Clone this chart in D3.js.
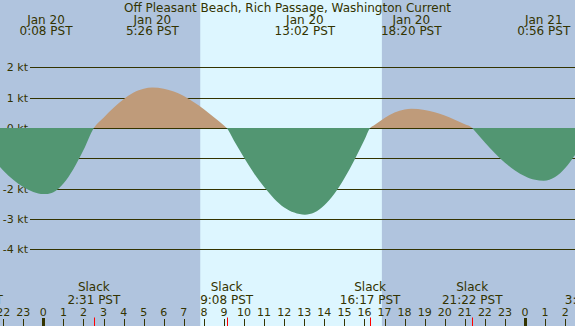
<!DOCTYPE html>
<html>
<head>
<meta charset="utf-8">
<script src="https://cdn.jsdelivr.net/npm/d3@7"></script>
<style>
  html, body { margin: 0; padding: 0; background: #b0c4de; }
  svg { display: block; }
  text { font-family: "DejaVu Sans", sans-serif; fill: #333300; }
</style>
</head>
<body>
<div id="viz"></div>
<script>
// Current at Off Pleasant Beach, Rich Passage, Jan 20 (hours from Jan 20 0:00 PST)
var W = 575, H = 326;
var title = "Off Pleasant Beach, Rich Passage, Washington Current";

// readings: hour, knots (flood +, ebb -)
var hours  = [-2.5, -2, -1.5, -1, -0.5, 0, 0.133, 0.5, 1, 1.5, 2, 2.517,
              3, 3.5, 4, 4.5, 5, 5.433, 6, 6.5, 7, 7.5, 8, 8.5, 9, 9.133,
              9.5, 10, 10.5, 11, 11.5, 12, 12.5, 13.033, 13.5, 14, 14.5, 15, 15.5, 16, 16.283,
              16.5, 17, 17.5, 18, 18.333, 19, 19.5, 20, 20.5, 21, 21.367,
              21.5, 22, 22.5, 23, 23.5, 24, 24.5, 24.933, 25.5, 26, 26.5, 27];
var speeds = [-1.03, -1.40, -1.71, -1.95, -2.11, -2.18, -2.18, -2.12, -1.83, -1.35, -0.73, 0,
              0.34, 0.67, 0.95, 1.17, 1.29, 1.33, 1.29, 1.20, 1.05, 0.85, 0.62, 0.35, 0.08, 0,
              -0.42, -0.98, -1.50, -1.95, -2.33, -2.62, -2.79, -2.86, -2.79, -2.55, -2.17, -1.66, -1.06, -0.39, 0,
              0.10, 0.33, 0.51, 0.61, 0.63, 0.59, 0.52, 0.41, 0.27, 0.12, 0,
              -0.10, -0.48, -0.83, -1.15, -1.40, -1.59, -1.71, -1.74, -1.62, -1.32, -0.88, -0.38];

// max current events (top labels)
var maxHours = [0.133, 5.433, 13.033, 18.333, 24.933];
var maxDays  = ["Jan 20", "Jan 20", "Jan 20", "Jan 20", "Jan 21"];
var maxTimes = ["0:08 PST", "5:26 PST", "13:02 PST", "18:20 PST", "0:56 PST"];

// slack water events (bottom labels)
var slackHours = [-3.53, 2.517, 9.133, 16.283, 21.367, 27.3];
var slackTimes = ["20:28 PST", "2:31 PST", "9:08 PST", "16:17 PST", "21:22 PST", "3:18 PST"];

var sunrise = 7.817, sunset = 16.867;
var ktTicks = [2, 1, 0, -1, -2, -3, -4];
var hourTicks = d3.range(-2, 28);

var x = d3.scaleLinear().domain([-2.16, 26.49]).range([0, W]);
var y = d3.scaleLinear().domain([-4, 2]).range([249.3, 67.3]);

var svg = d3.select("#viz").append("svg")
    .attr("width", W).attr("height", H);

// night / day background
svg.append("rect").attr("x", 0).attr("y", 0).attr("width", W).attr("height", H)
    .attr("fill", "#b0c4de");
svg.append("rect")
    .attr("x", x(sunrise)).attr("y", 0)
    .attr("width", x(sunset) - x(sunrise)).attr("height", H)
    .attr("fill", "#ddf6ff");

// grid lines
svg.append("g").selectAll("line").data(ktTicks).enter().append("line")
    .attr("x1", 30).attr("x2", W)
    .attr("y1", function(d) { return Math.round(y(d)) + 0.5; })
    .attr("y2", function(d) { return Math.round(y(d)) + 0.5; })
    .attr("stroke", "#333300").attr("stroke-width", 1);

svg.append("g").selectAll("text").data(ktTicks).enter().append("text")
    .attr("x", 28).attr("y", function(d) { return y(d) + 4; })
    .attr("text-anchor", "end").attr("font-size", 11)
    .text(function(d) { return d + " kt"; });

// current area, split by sign
var pts = hours.map(function(h, i) { return [h, speeds[i]]; });
var area = d3.area()
    .x(function(d) { return x(d[0]); })
    .y0(y(0))
    .y1(function(d) { return y(d[1]); })
    .curve(d3.curveMonotoneX);

var defs = svg.append("defs");
defs.append("clipPath").attr("id", "flood")
    .append("rect").attr("x", 0).attr("y", 0).attr("width", W).attr("height", y(0));
defs.append("clipPath").attr("id", "ebb")
    .append("rect").attr("x", 0).attr("y", y(0)).attr("width", W).attr("height", H - y(0));

svg.append("path").datum(pts).attr("d", area)
    .attr("fill", "#bf9b7a").attr("clip-path", "url(#flood)");
svg.append("path").datum(pts).attr("d", area)
    .attr("fill", "#529672").attr("clip-path", "url(#ebb)");

// title and max labels
svg.append("text").attr("x", W / 2).attr("y", 11.5)
    .attr("text-anchor", "middle").attr("font-size", 12).text(title);

var tops = svg.append("g").selectAll("g").data(maxHours).enter().append("g");
tops.append("text")
    .attr("x", function(d) { return x(d); }).attr("y", 23.5)
    .attr("text-anchor", "middle").attr("font-size", 12)
    .text(function(d, i) { return maxDays[i]; });
tops.append("text")
    .attr("x", function(d) { return x(d); }).attr("y", 35.3)
    .attr("text-anchor", "middle").attr("font-size", 12)
    .text(function(d, i) { return maxTimes[i]; });

// slack labels
var slacks = svg.append("g").selectAll("g").data(slackHours).enter().append("g");
slacks.append("text")
    .attr("x", function(d) { return x(d); }).attr("y", 291)
    .attr("text-anchor", "middle").attr("font-size", 12)
    .text("Slack");
slacks.append("text")
    .attr("x", function(d) { return x(d); }).attr("y", 303.5)
    .attr("text-anchor", "middle").attr("font-size", 12)
    .text(function(d, i) { return slackTimes[i]; });

// hour axis
svg.append("g").selectAll("text").data(hourTicks).enter().append("text")
    .attr("x", function(d) { return x(d); }).attr("y", 316)
    .attr("text-anchor", "middle").attr("font-size", 11)
    .text(function(d) { return ((d % 24) + 24) % 24; });

svg.append("g").selectAll("line").data(hourTicks).enter().append("line")
    .attr("x1", function(d) { return Math.round(x(d)) + 0.5; })
    .attr("x2", function(d) { return Math.round(x(d)) + 0.5; })
    .attr("y1", function(d) { return d % 24 == 0 ? 318 : 319; })
    .attr("y2", H)
    .attr("stroke", "#333300")
    .attr("stroke-width", function(d) { return d % 24 == 0 ? 3 : 1; });

svg.append("g").selectAll("line").data(slackHours).enter().append("line")
    .attr("x1", function(d) { return Math.round(x(d)) + 0.5; })
    .attr("x2", function(d) { return Math.round(x(d)) + 0.5; })
    .attr("y1", 317.5).attr("y2", H)
    .attr("stroke", "#ff0000").attr("stroke-width", 1);
</script>
</body>
</html>
